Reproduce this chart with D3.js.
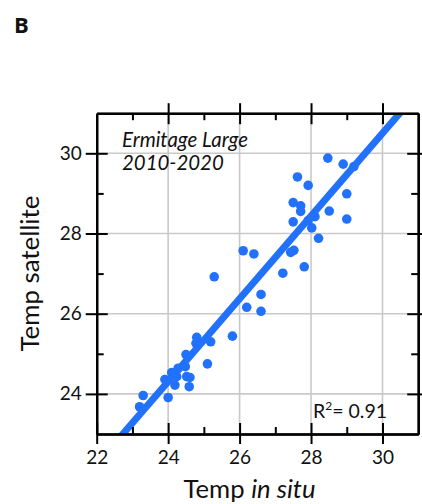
<!DOCTYPE html>
<html><head><meta charset="utf-8">
<script src="https://cdn.jsdelivr.net/npm/d3@7"></script>
<style>
html,body{margin:0;padding:0;background:#fff;}
svg{display:block;}
text{font-family:Lato,"Open Sans",sans-serif;fill:#111;}
</style></head>
<body>
<svg id="chart" width="422" height="504"></svg>
<script>
// ---- data ----
const tempInSitu = [28.47,28.90,29.20,27.62,27.92,29.00,27.50,27.71,27.71,28.51,27.50,27.92,28.11,28.02,29.00,28.21,27.43,27.52,26.10,26.40,27.81,27.21,25.29,26.60,26.20,26.60,25.80,24.80,24.78,25.19,24.50,25.10,24.48,24.28,24.10,24.24,23.91,24.52,24.61,24.19,24.59,24.00,23.30,23.20];
const tempSatellite = [29.88,29.73,29.67,29.41,29.20,28.99,28.77,28.69,28.55,28.56,28.29,28.32,28.42,28.14,28.36,27.88,27.53,27.58,27.57,27.49,27.17,27.01,26.92,26.48,26.16,26.06,25.44,25.41,25.26,25.30,24.98,24.75,24.68,24.64,24.53,24.43,24.36,24.43,24.41,24.22,24.18,23.91,23.96,23.68];
const fitSlope = 1.032;
const fitIntercept = -0.46;
const r2Value = "0.91";
const xMajorTicks = [22,24,26,28,30];
const xMinorTicks = [23,25,27,29];
const yMajorTicks = [24,26,28,30];
const yMinorTicks = [25,27,29];
const siteLabel = ["Ermitage Large", "2010-2020"];

const svg = d3.select("#chart");
const L = 96.7, R = 418.2, T = 113.2, B = 434;
const x = d3.scaleLinear().domain([22,31]).range([L,R]);
const y = d3.scaleLinear().domain([23,31]).range([B,T]);
const blue = "#2271fa";

function fitWidth(sel, target, base){
  const w = sel.node().getComputedTextLength();
  const fs = w > 0 ? base*target/w : base;
  sel.style("font-size", fs.toFixed(2)+"px");
  return fs;
}

// grid
const grid = svg.append("g");
grid.selectAll("line.gx").data(xMajorTicks.filter(d=>d>22)).join("line")
  .attr("x1",d=>x(d)).attr("x2",d=>x(d)).attr("y1",T).attr("y2",B)
  .attr("stroke","#c9c9c9").attr("stroke-width",1.6);
grid.selectAll("line.gy").data(yMajorTicks).join("line")
  .attr("y1",d=>y(d)).attr("y2",d=>y(d)).attr("x1",L).attr("x2",R)
  .attr("stroke","#c9c9c9").attr("stroke-width",1.6);

// clip
svg.append("clipPath").attr("id","clip").append("rect")
  .attr("x",L).attr("y",T).attr("width",R-L).attr("height",B-T);

const pts = tempInSitu.map((v,i)=>({x:v,y:tempSatellite[i]}));
svg.append("g").selectAll("circle").data(pts).join("circle")
  .attr("cx",d=>x(d.x)).attr("cy",d=>y(d.y)).attr("r",4.8).attr("fill",blue);

svg.append("line").attr("clip-path","url(#clip)")
  .attr("x1",x(22)).attr("y1",y(fitIntercept+fitSlope*22))
  .attr("x2",x(31)).attr("y2",y(fitIntercept+fitSlope*31))
  .attr("stroke",blue).attr("stroke-width",7);

// axes
function style(g){
  g.selectAll("path.domain").attr("stroke","#000").attr("stroke-width",2);
  g.selectAll(".tick line").attr("stroke","#000").attr("stroke-width",2);
  g.selectAll(".tick text").style("font-family","Lato, sans-serif").style("font-size","19px").attr("fill","#111");
}
// bottom
svg.append("g").attr("transform",`translate(0,${B})`)
  .call(d3.axisBottom(x).tickValues(xMajorTicks).tickSize(10).tickSizeOuter(0).tickPadding(7).tickFormat(d3.format("d")))
  .call(style);
svg.append("g").attr("transform",`translate(0,${B})`)
  .call(d3.axisBottom(x).tickValues(xMajorTicks).tickSize(-11).tickSizeOuter(0).tickFormat("")).call(style);
svg.append("g").attr("transform",`translate(0,${B})`)
  .call(d3.axisBottom(x).tickValues(xMinorTicks).tickSize(-7).tickSizeOuter(0).tickFormat("")).call(style);
// top
svg.append("g").attr("transform",`translate(0,${T})`)
  .call(d3.axisTop(x).tickValues(xMajorTicks.filter(d=>d>22)).tickSize(10).tickSizeOuter(0).tickFormat("")).call(style);
svg.append("g").attr("transform",`translate(0,${T})`)
  .call(d3.axisTop(x).tickValues(xMajorTicks.filter(d=>d>22)).tickSize(-11).tickSizeOuter(0).tickFormat("")).call(style);
svg.append("g").attr("transform",`translate(0,${T})`)
  .call(d3.axisTop(x).tickValues(xMinorTicks).tickSize(-7).tickSizeOuter(0).tickFormat("")).call(style);
// left
svg.append("g").attr("transform",`translate(${L},0)`)
  .call(d3.axisLeft(y).tickValues(yMajorTicks).tickSize(11).tickSizeOuter(0).tickPadding(4).tickFormat(d3.format("d")))
  .call(style);
svg.append("g").attr("transform",`translate(${L},0)`)
  .call(d3.axisLeft(y).tickValues(yMajorTicks).tickSize(-11).tickSizeOuter(0).tickFormat("")).call(style);
svg.append("g").attr("transform",`translate(${L},0)`)
  .call(d3.axisLeft(y).tickValues(yMinorTicks).tickSize(-7).tickSizeOuter(0).tickFormat("")).call(style);
// right
svg.append("g").attr("transform",`translate(${R},0)`)
  .call(d3.axisRight(y).tickValues(yMajorTicks).tickSize(11).tickSizeOuter(0).tickFormat("")).call(style);
svg.append("g").attr("transform",`translate(${R},0)`)
  .call(d3.axisRight(y).tickValues(yMajorTicks).tickSize(-11).tickSizeOuter(0).tickFormat("")).call(style);
svg.append("g").attr("transform",`translate(${R},0)`)
  .call(d3.axisRight(y).tickValues(yMinorTicks).tickSize(-7).tickSizeOuter(0).tickFormat("")).call(style);

// panel letter
svg.append("text").attr("x",14).attr("y",33).text("B")
  .style("font-family","'Open Sans', sans-serif").style("font-weight","bold").style("font-size","22px").attr("fill","#555");

// axis titles
const yt = svg.append("text").attr("transform",`translate(39,${(T+B)/2}) rotate(-90)`)
  .attr("text-anchor","middle").style("font-size","22px").text("Temp satellite");
fitWidth(yt, 156, 22);
const xt = svg.append("text").attr("x",249.5).attr("y",498).attr("text-anchor","middle").style("font-size","21px");
xt.append("tspan").text("Temp ");
xt.append("tspan").style("font-style","italic").text("in situ");
fitWidth(xt, 132, 21);

// annotation
const t0 = svg.append("text").attr("x",122).attr("y",147).style("font-style","italic").style("font-size","18px").text(siteLabel[0]);
const fsSite = fitWidth(t0, 126, 18);
svg.append("text").attr("x",122).attr("y",170).style("font-style","italic").style("font-size",fsSite.toFixed(2)+"px").text(siteLabel[1]);

const r2 = svg.append("text").attr("x",313).attr("y",418).style("font-size","19.5px");
r2.append("tspan").text("R");
r2.append("tspan").attr("dy",-8).style("font-size","12px").text("2");
r2.append("tspan").attr("dy",8).text("= " + r2Value);
</script>
</body></html>
